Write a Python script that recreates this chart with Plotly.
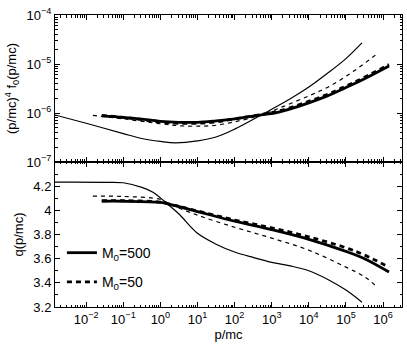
import plotly.graph_objects as go
from plotly.subplots import make_subplots
import numpy as np

# log10(p/mc) positions and values
# top panel: log10 of (p/mc)^4 f0(p/mc)
lx_f_thin = [-2.84, -2.0, -1.0, -0.5, 0.0, 0.4, 1.0, 1.5, 2.0, 2.72, 3.5, 4.0, 4.5, 5.0, 5.43]
ly_f_thin = [-6.04, -6.21, -6.42, -6.52, -6.58, -6.61, -6.57, -6.49, -6.33, -6.04, -5.71, -5.47, -5.19, -4.89, -4.57]

lx_f_thin_dash = [-1.82, -1.0, 0.0, 0.5, 1.0, 1.5, 2.0, 2.72, 3.3, 4.0, 4.57, 5.2, 5.86]
ly_f_thin_dash = [-6.05, -6.12, -6.22, -6.26, -6.27, -6.25, -6.18, -6.04, -5.87, -5.65, -5.45, -5.15, -4.78]

lx_f_m500 = [-1.58, -1.0, -0.55, 0.0, 0.5, 1.0, 1.5, 2.0, 2.72, 3.19, 4.4, 5.0, 5.5, 6.16]
ly_f_m500 = [-6.06, -6.09, -6.12, -6.17, -6.19, -6.19, -6.16, -6.12, -6.04, -5.98, -5.68, -5.48, -5.30, -5.04]

lx_f_m50 = [-1.58, -1.0, -0.55, 0.0, 0.5, 1.0, 1.5, 2.0, 2.72, 3.19, 4.4, 5.0, 5.5, 6.16]
ly_f_m50 = [-6.05, -6.09, -6.13, -6.19, -6.21, -6.21, -6.18, -6.12, -6.03, -5.96, -5.65, -5.45, -5.27, -5.01]

# bottom panel: q(p/mc)
lx_q_thin = [-2.84, -1.5, -1.0, -0.5, -0.2, 0.2, 0.5, 1.0, 1.5, 2.0, 2.5, 3.0, 3.5, 4.0, 4.5, 5.0, 5.43]
q_thin = [4.233, 4.232, 4.228, 4.19, 4.15, 4.05, 3.97, 3.81, 3.72, 3.655, 3.61, 3.57, 3.54, 3.50, 3.43, 3.34, 3.24]

lx_q_thin_dash = [-1.82, -1.0, 0.0, 0.26, 1.0, 2.0, 3.0, 4.0, 5.0, 5.5, 5.86]
q_thin_dash = [4.117, 4.115, 4.09, 4.05, 3.96, 3.86, 3.77, 3.67, 3.53, 3.45, 3.36]

lx_q_m500 = [-1.58, -1.0, 0.0, 0.26, 1.0, 2.0, 3.0, 4.0, 5.0, 5.5, 6.16]
q_m500 = [4.075, 4.075, 4.065, 4.05, 3.99, 3.91, 3.84, 3.76, 3.66, 3.60, 3.49]

lx_q_m50 = [-1.58, -1.0, 0.0, 0.26, 1.0, 2.0, 3.0, 4.0, 5.0, 5.5, 6.16]
q_m50 = [4.08, 4.08, 4.068, 4.05, 3.995, 3.92, 3.855, 3.78, 3.69, 3.63, 3.53]

x_decades = [-2, -1, 0, 1, 2, 3, 4, 5, 6]
f_decades = [-7, -6, -5, -4]
q_ticks = [3.2, 3.4, 3.6, 3.8, 4.0, 4.2]
q_labels = ["3.2", "3.4", "3.6", "3.8", "4", "4.2"]

FONT = "Liberation Sans, Arial, sans-serif"


def p(lx):
    return 10 ** np.array(lx, dtype=float)


def pow_label(n):
    return "10<sup>" + str(n).replace("-", "\u2212") + "</sup>"


def minor_vals(lo, hi):
    vals = []
    for d in range(lo, hi):
        for m in range(2, 10):
            vals.append(m * 10.0 ** d)
    return vals


fig = make_subplots(rows=2, cols=1, shared_xaxes=True, vertical_spacing=0,
                    row_heights=[0.5034, 0.4966])


def line(x, y, width, dash, name=None, show=False, group=None):
    return go.Scatter(x=x, y=y, mode="lines",
                      line=dict(color="black", width=width, dash=dash, shape="spline"),
                      name=name, showlegend=show, legendgroup=group)


fig.add_trace(line(p(lx_f_thin), p(ly_f_thin), 1.2, "solid"), row=1, col=1)
fig.add_trace(line(p(lx_f_thin_dash), p(ly_f_thin_dash), 1.2, "4px,4px"), row=1, col=1)
fig.add_trace(line(p(lx_f_m500), p(ly_f_m500), 2.8, "solid"), row=1, col=1)
fig.add_trace(line(p(lx_f_m50), p(ly_f_m50), 2.8, "5px,4px"), row=1, col=1)

fig.add_trace(line(p(lx_q_thin), q_thin, 1.2, "solid"), row=2, col=1)
fig.add_trace(line(p(lx_q_thin_dash), q_thin_dash, 1.2, "4px,4px"), row=2, col=1)
fig.add_trace(line(p(lx_q_m500), q_m500, 2.8, "solid", "M<sub>0</sub>=500", True, "a"), row=2, col=1)
fig.add_trace(line(p(lx_q_m50), q_m50, 2.8, "5px,4px", "M<sub>0</sub>=50", True, "b"), row=2, col=1)

axis_style = dict(showline=True, linecolor="black", linewidth=1, mirror="allticks",
                  ticks="inside", ticklen=5, tickcolor="black", showgrid=False, zeroline=False,
                  automargin=False, tickfont=dict(family=FONT, size=13, color="black"))

fig.update_xaxes(type="log", range=[-2.84, 6.51],
                 tickvals=p(x_decades), ticktext=[pow_label(n) for n in x_decades],
                 minor=dict(ticks="inside", ticklen=2.5, tickcolor="black",
                            tickvals=minor_vals(-3, 7)),
                 **axis_style)
fig.update_xaxes(showticklabels=False, row=1, col=1)
fig.update_xaxes(title=dict(text="p/mc", font=dict(family=FONT, size=13, color="black"), standoff=2),
                 row=2, col=1)

fig.update_yaxes(type="log", range=[-7, -4],
                 tickvals=p(f_decades), ticktext=[pow_label(n) for n in f_decades],
                 minor=dict(ticks="inside", ticklen=2.5, tickcolor="black",
                            tickvals=minor_vals(-7, -4)),
                 title=dict(text="(p/mc)<sup>4</sup> f<sub>0</sub>(p/mc)",
                            font=dict(family=FONT, size=13, color="black"), standoff=6),
                 row=1, col=1, **axis_style)
fig.update_yaxes(range=[3.2, 4.4], tickvals=q_ticks, ticktext=q_labels,
                 minor=dict(ticks="inside", ticklen=2.5, tickcolor="black", dtick=0.1),
                 title=dict(text="q(p/mc)", font=dict(family=FONT, size=13, color="black"), standoff=6),
                 row=2, col=1, **axis_style)

fig.update_layout(
    width=407, height=345,
    margin=dict(l=55, r=5, t=15, b=38),
    paper_bgcolor="white", plot_bgcolor="white",
    font=dict(family=FONT, size=13, color="black"),
    legend=dict(x=0.02, y=0.135, xanchor="left", yanchor="middle", bgcolor="rgba(0,0,0,0)",
                traceorder="grouped", tracegroupgap=8, itemwidth=30,
                font=dict(family=FONT, size=14, color="black")),
)

# the page body has a default 8px margin; drop it so the figure fills the window
fig.write_html("out.html", config={"displayModeBar": False},
               post_script="document.body.style.margin='0';")
